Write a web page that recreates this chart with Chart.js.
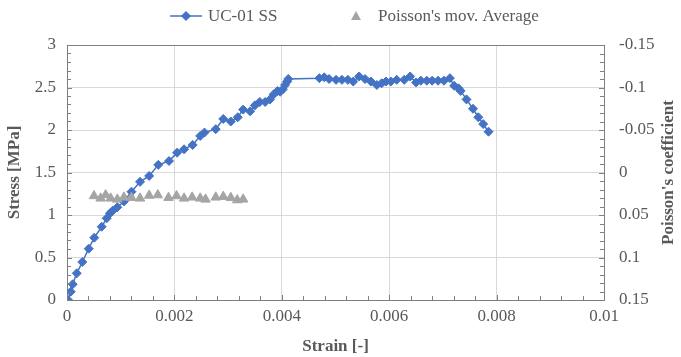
<!DOCTYPE html>
<html>
<head>
<meta charset="utf-8">
<script src="https://cdn.jsdelivr.net/npm/chart.js@4.4.1/dist/chart.umd.min.js"></script>
<style>
  html, body { margin: 0; padding: 0; background: #fff; }
</style>
</head>
<body>
<canvas id="stressChart" width="681" height="357"></canvas>
<script>
// stress-strain curve (UC-01 SS)
const strainSS = [
  0.00002, 0.000069, 0.000106, 0.000181, 0.000285, 0.000404, 0.000508, 0.000646, 0.000739, 0.000801,
  0.000851, 0.000937, 0.00106, 0.0012, 0.00136, 0.00153, 0.0017, 0.0019, 0.00205, 0.00218,
  0.00234, 0.00248, 0.00256, 0.00277, 0.00291, 0.00305, 0.00318, 0.00328, 0.00341, 0.0035,
  0.00359, 0.00369, 0.00378, 0.00385, 0.00392, 0.00397, 0.00402, 0.00406, 0.0041, 0.00412,
  0.0047, 0.00479, 0.00488, 0.00501, 0.00512, 0.00523, 0.00533, 0.00544, 0.00555, 0.00566,
  0.00577, 0.00586, 0.00594, 0.00603, 0.00614, 0.00628, 0.00639, 0.0065, 0.00659, 0.0067,
  0.0068, 0.00691, 0.00702, 0.00713, 0.00721, 0.00729, 0.00733, 0.00744, 0.00756, 0.00766,
  0.00775, 0.00785
];
const stressSS = [
  0.0, 0.098, 0.185, 0.314, 0.447, 0.604, 0.733, 0.862, 0.961, 1.02,
  1.051, 1.091, 1.16, 1.274, 1.39, 1.46, 1.59, 1.635, 1.733, 1.773,
  1.824, 1.93, 1.97, 2.01, 2.13, 2.10, 2.15, 2.24, 2.22, 2.29,
  2.33, 2.33, 2.36, 2.42, 2.46, 2.45, 2.48, 2.53, 2.57, 2.60,
  2.61, 2.62, 2.60, 2.59, 2.59, 2.59, 2.57, 2.63, 2.60, 2.57,
  2.53, 2.55, 2.57, 2.57, 2.59, 2.59, 2.63, 2.56, 2.58, 2.58,
  2.58, 2.58, 2.58, 2.61, 2.52, 2.49, 2.46, 2.36, 2.25, 2.15,
  2.07, 1.98
];

// poisson's moving average (secondary axis)
const strainPoisson = [
  0.000503, 0.000627, 0.00072, 0.000813, 0.000937, 0.00106, 0.0012, 0.00136, 0.00153, 0.00169,
  0.00189, 0.00204, 0.00218, 0.00233, 0.00248, 0.00258, 0.00277, 0.00291, 0.00305, 0.00317,
  0.00328
];
const poissonAvg = [
  0.0276, 0.0304, 0.0265, 0.0304, 0.0316, 0.0292, 0.0296, 0.0304, 0.027, 0.0265,
  0.0296, 0.0276, 0.0304, 0.0292, 0.0304, 0.0316, 0.0292, 0.0284, 0.0296, 0.0324,
  0.0316
];

// axis ranges / ticks
const strainTicks = [0, 0.01, 0.002, 0.0004];   // min, max, major, minor
const stressTicks = [0, 3, 0.5, 0.1];
const poissonTicks = [-0.15, 0.15, 0.05, 0.01];

const serif = "'Liberation Serif', 'Times New Roman', serif";
const textGray = '#595959';
const axisGray = '#7F7F7F';

function toPoints(xs, ys) {
  return xs.map((x, i) => ({ x: x, y: ys[i] }));
}

// inward tick marks, top border, right title and legend (Excel look)
const excelFrame = {
  id: 'excelFrame',
  afterDraw(chart) {
    const ctx = chart.ctx;
    const area = chart.chartArea;
    const sx = chart.scales.x, sy = chart.scales.y, sy2 = chart.scales.y2;
    ctx.save();
    ctx.strokeStyle = axisGray;
    ctx.lineWidth = 1;

    // top border
    ctx.beginPath();
    ctx.moveTo(area.left, area.top + 0.5);
    ctx.lineTo(area.right, area.top + 0.5);
    ctx.stroke();

    function ticksFor(cfg, fn) {
      const n = Math.round((cfg[1] - cfg[0]) / cfg[3]);
      const every = Math.round(cfg[2] / cfg[3]);
      for (let i = 0; i <= n; i++) fn(cfg[0] + i * cfg[3], i % every === 0);
    }

    ctx.beginPath();
    ticksFor(strainTicks, (v, major) => {
      const px = Math.round(sx.getPixelForValue(v)) + 0.5;
      ctx.moveTo(px, area.bottom);
      ctx.lineTo(px, area.bottom - (major ? 5 : 4));
    });
    ticksFor(stressTicks, (v, major) => {
      const py = Math.round(sy.getPixelForValue(v)) + 0.5;
      ctx.moveTo(area.left, py);
      ctx.lineTo(area.left + (major ? 5 : 4), py);
    });
    ticksFor(poissonTicks, (v, major) => {
      const py = Math.round(sy2.getPixelForValue(v)) + 0.5;
      ctx.moveTo(area.right, py);
      ctx.lineTo(area.right - (major ? 5 : 4), py);
    });
    ctx.stroke();

    // right axis title, reads bottom to top like the left one
    ctx.fillStyle = textGray;
    ctx.font = 'bold 17px ' + serif;
    ctx.textAlign = 'center';
    ctx.textBaseline = 'middle';
    ctx.save();
    ctx.translate(669, (area.top + area.bottom) / 2);
    ctx.rotate(-Math.PI / 2);
    ctx.fillText("Poisson's coefficient", 0, 0);
    ctx.restore();

    // legend
    const ly = 16;
    ctx.font = '17px ' + serif;
    ctx.textAlign = 'left';
    ctx.strokeStyle = '#4472C4';
    ctx.lineWidth = 1.5;
    ctx.beginPath();
    ctx.moveTo(170, ly);
    ctx.lineTo(202, ly);
    ctx.stroke();
    ctx.fillStyle = '#4472C4';
    ctx.beginPath();
    ctx.moveTo(186, ly - 5);
    ctx.lineTo(191, ly);
    ctx.lineTo(186, ly + 5);
    ctx.lineTo(181, ly);
    ctx.closePath();
    ctx.fill();
    ctx.fillStyle = textGray;
    ctx.fillText(chart.data.datasets[1].label, 208, ly + 1);

    ctx.fillStyle = '#A5A5A5';
    ctx.beginPath();
    ctx.moveTo(356, ly - 5);
    ctx.lineTo(361, ly + 4);
    ctx.lineTo(351, ly + 4);
    ctx.closePath();
    ctx.fill();
    ctx.fillStyle = textGray;
    ctx.fillText(chart.data.datasets[0].label, 378, ly + 1);
    ctx.restore();
  }
};

const numLabel = (digits) => (v) => String(parseFloat(Number(v).toFixed(digits)));

new Chart(document.getElementById('stressChart'), {
  type: 'scatter',
  data: {
    datasets: [
      {
        label: "Poisson's mov. Average",
        data: toPoints(strainPoisson, poissonAvg),
        yAxisID: 'y2',
        showLine: false,
        pointStyle: 'triangle',
        pointRadius: 5.5,
        backgroundColor: '#A5A5A5',
        borderColor: '#A5A5A5',
        borderWidth: 1,
        order: 0
      },
      {
        label: 'UC-01 SS',
        data: toPoints(strainSS, stressSS),
        yAxisID: 'y',
        showLine: true,
        borderColor: '#4472C4',
        borderWidth: 1.5,
        pointStyle: 'rectRot',
        pointRadius: 4.5,
        pointBackgroundColor: '#4472C4',
        pointBorderColor: '#4472C4',
        pointBorderWidth: 1,
        order: 1
      }
    ]
  },
  options: {
    responsive: false,
    animation: false,
    devicePixelRatio: 1,
    layout: { padding: { top: 45, left: 0, right: 0, bottom: 0 } },
    plugins: {
      legend: { display: false },
      tooltip: { enabled: false }
    },
    scales: {
      x: {
        type: 'linear',
        min: strainTicks[0],
        max: strainTicks[1],
        afterFit: (scale) => { scale.height = 57; },
        ticks: { stepSize: strainTicks[2], callback: numLabel(4), color: textGray, font: { family: serif, size: 17 }, padding: 6, maxRotation: 0 },
        grid: { color: '#D9D9D9', drawTicks: false },
        border: { display: true, color: axisGray, width: 1 },
        title: { display: true, text: 'Strain [-]', color: textGray, font: { family: serif, size: 17, weight: 'bold' }, padding: { top: 1, bottom: 0 } }
      },
      y: {
        type: 'linear',
        position: 'left',
        min: stressTicks[0],
        max: stressTicks[1],
        afterFit: (scale) => { scale.width = 67; },
        ticks: { stepSize: stressTicks[2], callback: numLabel(2), color: textGray, font: { family: serif, size: 17 }, padding: 11 },
        grid: { color: '#D9D9D9', drawTicks: false },
        border: { display: true, color: axisGray, width: 1 },
        title: { display: true, text: 'Stress [MPa]', color: textGray, font: { family: serif, size: 17, weight: 'bold' }, padding: { top: 4, bottom: 0 } }
      },
      y2: {
        type: 'linear',
        position: 'right',
        reverse: true,
        min: poissonTicks[0],
        max: poissonTicks[1],
        afterFit: (scale) => { scale.width = 77; },
        ticks: { stepSize: poissonTicks[2], callback: numLabel(2), color: textGray, font: { family: serif, size: 17 }, padding: 15 },
        grid: { drawOnChartArea: false, drawTicks: false },
        border: { display: true, color: axisGray, width: 1 },
        title: { display: false }
      }
    }
  },
  plugins: [excelFrame]
});
</script>
</body>
</html>
